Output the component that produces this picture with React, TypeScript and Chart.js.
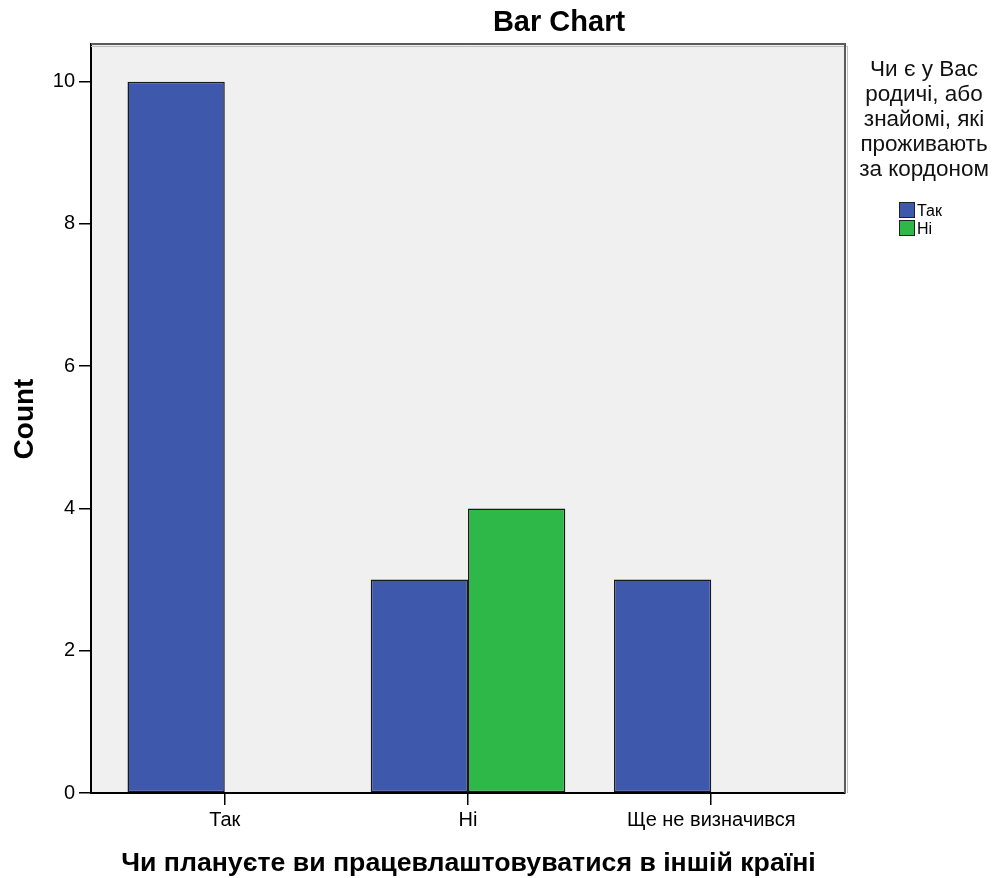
import React, { useEffect, useRef } from "react";
import { Chart, registerables } from "chart.js";
Chart.register(...registerables);

const categories = ["Так", "Ні", "Ще не визначився"];
const seriesLabels = ["Так", "Ні"];
const takValues = [10, 3, 3];
const niValues = [0, 4, 0];
const seriesColors = ["#3e58ac", "#2eb848"];
const yTicks = [0, 2, 4, 6, 8, 10];
const chartTitle = "Bar Chart";
const xTitle = "Чи плануєте ви працевлаштовуватися в іншій країні";
const yTitle = "Count";
const legendTitle = ["Чи є у Вас", "родичі, або", "знайомі, які", "проживають", "за кордоном"];

const FONT = "'Liberation Sans', Arial, sans-serif";

export default function App() {
  const ref = useRef<HTMLCanvasElement>(null);
  useEffect(() => {
    document.body.style.margin = "0";
    const canvas = ref.current!;
    const decor = {
      id: "decor",
      beforeDraw(chart: any) {
        const { ctx, chartArea: a } = chart;
        ctx.save();
        ctx.fillStyle = "#ffffff";
        ctx.fillRect(0, 0, chart.width, chart.height);
        ctx.fillStyle = "#f0f0f0";
        ctx.fillRect(a.left, a.top, a.right - a.left, a.bottom - a.top);
        ctx.restore();
      },
      afterDraw(chart: any) {
        const { ctx, chartArea: a } = chart;
        ctx.save();
        // frame top & right
        ctx.strokeStyle = "#bdbdbd";
        ctx.lineWidth = 1;
        ctx.beginPath();
        ctx.moveTo(a.left, a.top + 2.5);
        ctx.lineTo(a.right + 2.5, a.top + 2.5);
        ctx.lineTo(a.right + 2.5, a.bottom);
        ctx.stroke();
        ctx.strokeStyle = "#5a5a5a";
        ctx.lineWidth = 2;
        ctx.beginPath();
        ctx.moveTo(a.left, a.top);
        ctx.lineTo(a.right, a.top);
        ctx.lineTo(a.right, a.bottom);
        ctx.stroke();

        ctx.fillStyle = "#000";
        // title
        ctx.font = `bold 29px ${FONT}`;
        ctx.textAlign = "center";
        ctx.textBaseline = "alphabetic";
        ctx.fillText(chartTitle, 559, 31);
        // x title
        ctx.font = `bold 26.7px ${FONT}`;
        ctx.fillText(xTitle, 468.5, 871);
        // y title
        ctx.font = `bold 28px ${FONT}`;
        ctx.save();
        ctx.translate(33, 419);
        ctx.rotate(-Math.PI / 2);
        ctx.fillText(yTitle, 0, 0);
        ctx.restore();
        // legend title
        ctx.font = `22.5px ${FONT}`;
        ctx.fillStyle = "#111";
        legendTitle.forEach((t, i) => {
          ctx.fillText(t, 924, 76 + i * 25);
        });
        // legend items
        ctx.textAlign = "left";
        ctx.font = `16px ${FONT}`;
        seriesLabels.forEach((lab, i) => {
          const y = 202 + i * 18;
          ctx.fillStyle = seriesColors[i];
          ctx.fillRect(899.5, y + 0.5, 15, 15);
          ctx.strokeStyle = "#222";
          ctx.lineWidth = 1;
          ctx.strokeRect(899.5, y + 0.5, 15, 15);
          ctx.fillStyle = "#000";
          ctx.fillText(lab, 917, y + 14);
        });
        ctx.restore();
      },
    };

    const chart = new Chart(canvas, {
      type: "bar",
      data: {
        datasets: [
          {
            label: seriesLabels[0],
            data: takValues.map((v, i) => ({ x: i, y: v })),
            backgroundColor: seriesColors[0],
            borderColor: "#1a1a1a",
            borderWidth: 1.5,
            borderSkipped: false,
          },
          {
            label: seriesLabels[1],
            data: niValues.map((v, i) => ({ x: i, y: v })),
            backgroundColor: seriesColors[1],
            borderColor: "#1a1a1a",
            borderWidth: 1.5,
            borderSkipped: false,
          },
        ],
      } as any,
      options: {
        animation: false,
        responsive: false,
        maintainAspectRatio: false,
        devicePixelRatio: 1,
        layout: { padding: { top: 44, right: 153, left: 0, bottom: 0 } },
        datasets: { bar: { categoryPercentage: 0.8, barPercentage: 1 } } as any,
        plugins: { legend: { display: false }, title: { display: false }, tooltip: { enabled: false } },
        scales: {
          x: {
            type: "linear",
            offset: false,
            min: -0.55,
            max: 2.55,
            afterFit: (s: any) => { s.height = 85; },
            afterBuildTicks: (s: any) => { s.ticks = categories.map((_, i) => ({ value: i })); },
            ticks: {
              stepSize: 1,
              includeBounds: false,
              autoSkip: false,
              maxRotation: 0,
              padding: 3,
              color: "#000",
              font: { family: FONT, size: 20 },
              callback: (v: any) => categories[v] ?? "",
            },
            grid: { offset: false, drawOnChartArea: false, drawTicks: true, tickLength: 12, color: "#000", lineWidth: 1.5 },
            border: { display: true, color: "#000", width: 2 },
          },
          y: {
            type: "linear",
            min: 0,
            max: 10.53,
            afterFit: (s: any) => { s.width = 91; },
            afterBuildTicks: (s: any) => { s.ticks = yTicks.map((v) => ({ value: v })); },
            ticks: {
              padding: 4,
              color: "#000",
              font: { family: FONT, size: 20 },
            },
            grid: { drawOnChartArea: false, drawTicks: true, tickLength: 12, color: "#000", lineWidth: 1.5 },
            border: { display: true, color: "#000", width: 2 },
          },
        },
      } as any,
      plugins: [decor],
    });
    return () => chart.destroy();
  }, []);
  return (
    <div style={{ position: "absolute", left: 0, top: 0, width: 998, height: 878 }}>
      <canvas ref={ref} width={998} height={878} style={{ width: 998, height: 878 }} />
    </div>
  );
}
